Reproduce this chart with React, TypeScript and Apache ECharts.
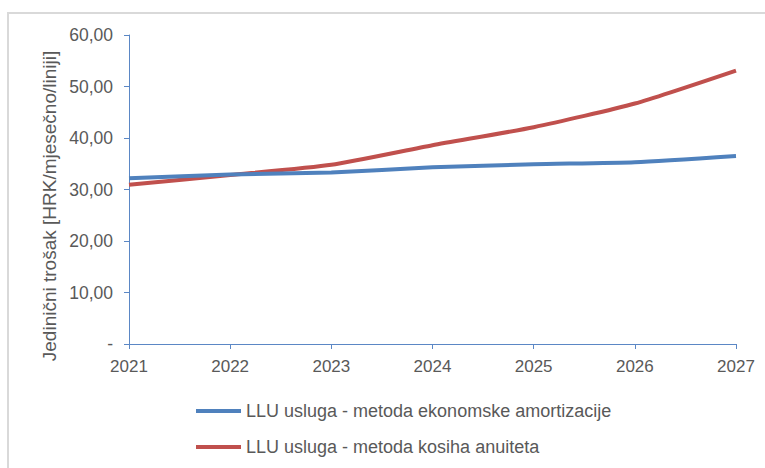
import React, { useEffect, useRef } from "react";
import * as echarts from "echarts";

const years = ["2021", "2022", "2023", "2024", "2025", "2026", "2027"];
const ekonomska = [32.2, 32.9, 33.3, 34.3, 34.9, 35.3, 36.5];
const anuitet = [30.9, 32.8, 34.8, 38.6, 42.1, 46.7, 53.1];
const seriesNames = [
  "LLU usluga - metoda ekonomske amortizacije",
  "LLU usluga - metoda kosiha anuiteta",
];
const yTitle = "Jedinični trošak [HRK/mjesečno/liniji]";

const FONT = "'Liberation Sans', Arial, sans-serif";
const TXT = "#595959";
const AXIS = "#5b87c5";

export default function App() {
  const ref = useRef<HTMLDivElement>(null);
  useEffect(() => {
    if (!ref.current) return;
    const chart = echarts.init(ref.current, undefined, { renderer: "svg" });
    chart.setOption({
      animation: false,
      backgroundColor: "#ffffff",
      textStyle: { fontFamily: FONT },
      grid: { left: 129, right: 29, top: 35, bottom: 124, containLabel: false },
      graphic: [
        {
          type: "rect",
          shape: { x: 8, y: 13, width: 820, height: 520 },
          style: { fill: "none", stroke: "#d9d9d9", lineWidth: 2 },
          silent: true,
        },
        {
          type: "text",
          x: 49,
          y: 206,
          rotation: Math.PI / 2,
          style: {
            text: yTitle,
            fontFamily: FONT,
            fontSize: 19,
            fill: TXT,
            align: "center",
            verticalAlign: "middle",
          },
        },
      ],
      legend: {
        orient: "vertical",
        left: 196,
        top: 402,
        padding: 0,
        itemWidth: 45,
        itemHeight: 4,
        itemGap: 18,
        icon: "rect",
        textStyle: { fontFamily: FONT, fontSize: 18, color: TXT, lineHeight: 18 },
        data: seriesNames,
      },
      xAxis: {
        type: "category",
        data: years,
        boundaryGap: false,
        axisLine: { lineStyle: { color: AXIS, width: 1 } },
        axisTick: { show: true, length: 5, lineStyle: { color: AXIS } },
        axisLabel: { color: TXT, fontSize: 17, fontFamily: FONT, margin: 14 },
        splitLine: { show: false },
      },
      yAxis: {
        type: "value",
        min: 0,
        max: 60,
        interval: 10,
        axisLine: { show: true, lineStyle: { color: AXIS, width: 1 } },
        axisTick: { show: true, length: 5, lineStyle: { color: AXIS } },
        axisLabel: {
          color: TXT,
          fontSize: 17.5,
          fontFamily: FONT,
          margin: 16,
          formatter: (v: number) => (v === 0 ? "-" : v.toFixed(2).replace(".", ",")),
        },
        splitLine: { show: false },
      },
      series: [
        {
          name: seriesNames[0],
          type: "line",
          data: ekonomska,
          smooth: 0.2,
          symbol: "none",
          lineStyle: { color: "#4f81bd", width: 4 },
          itemStyle: { color: "#4f81bd" },
          z: 3,
        },
        {
          name: seriesNames[1],
          type: "line",
          data: anuitet,
          smooth: 0.2,
          symbol: "none",
          lineStyle: { color: "#c0504d", width: 4 },
          itemStyle: { color: "#c0504d" },
          z: 2,
        },
      ],
    });
    return () => chart.dispose();
  }, []);
  return (
    <div
      ref={ref}
      style={{ position: "fixed", left: 0, top: 0, width: 765, height: 468, background: "#fff" }}
    />
  );
}
